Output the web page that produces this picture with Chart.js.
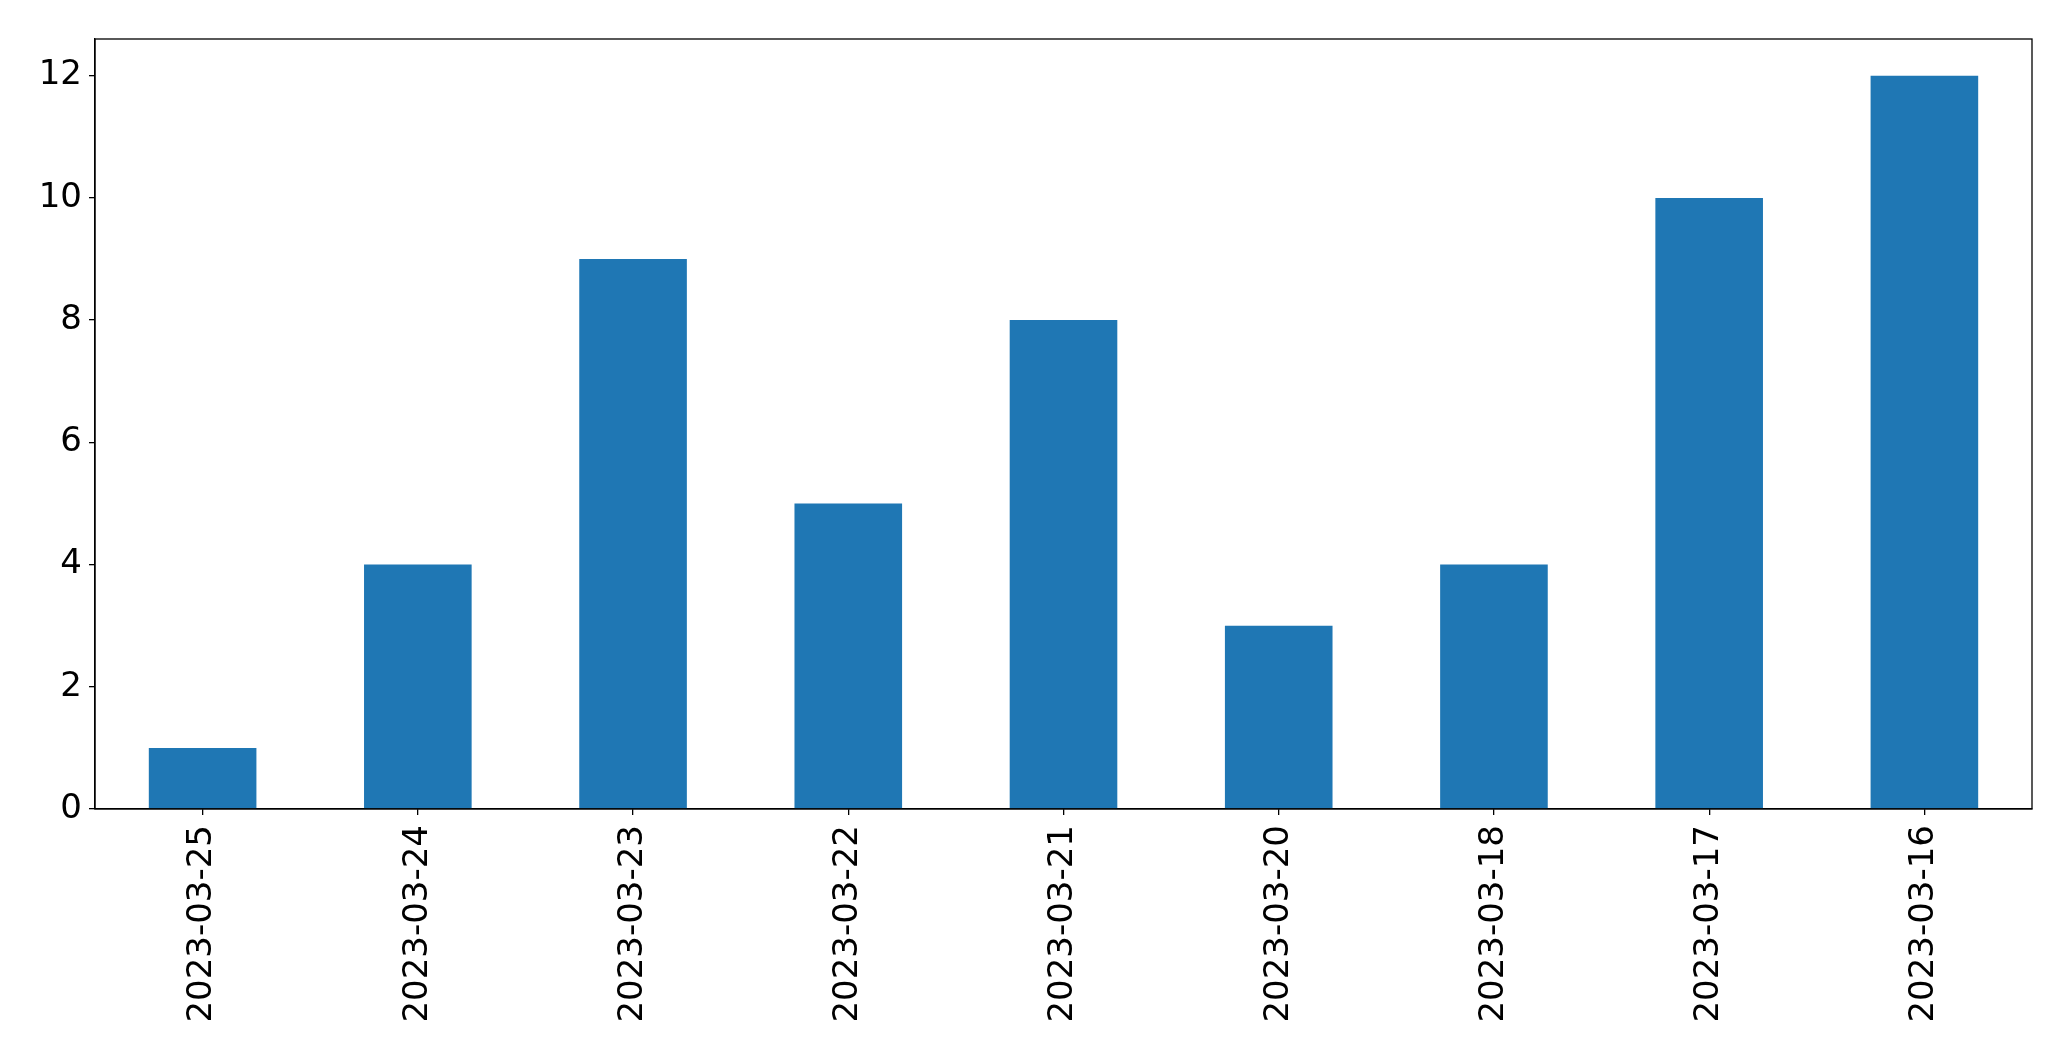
<!DOCTYPE html>
<html lang="en">
<head>
  <meta charset="UTF-8">
  <title>Counts per day</title>
  <script src="https://cdn.jsdelivr.net/npm/chart.js"></script>
  <style>
    body {
      margin: 0;
      background: #fff;
    }
    #wrap {
      width: 2071px;
      height: 1061px;
    }
  </style>
</head>
<body>
  <div id="wrap">
    <canvas id="barChart" width="2071" height="1061"></canvas>
  </div>

  <script>
    const dates = ['2023-03-25', '2023-03-24', '2023-03-23', '2023-03-22', '2023-03-21',
                   '2023-03-20', '2023-03-18', '2023-03-17', '2023-03-16'];
    const counts = [1, 4, 9, 5, 8, 3, 4, 10, 12];
    const yTicks = [0, 2, 4, 6, 8, 10, 12];
    const yMax = 12.6;

    // frame round the plot area (top and right sides too, like matplotlib)
    const frame = {
      id: 'frame',
      afterDraw(chart) {
        const a = chart.chartArea;
        const ctx = chart.ctx;
        ctx.save();
        ctx.strokeStyle = '#000';
        ctx.lineWidth = 1.3;
        ctx.strokeRect(a.left, a.top, a.right - a.left, a.bottom - a.top);
        ctx.restore();
      }
    };

    const font = { family: '"DejaVu Sans", sans-serif', size: 34 };

    new Chart(document.getElementById('barChart').getContext('2d'), {
      type: 'bar',
      data: {
        labels: dates,
        datasets: [{
          data: counts,
          backgroundColor: '#1f77b4',
          barPercentage: 0.5,
          categoryPercentage: 1.0
        }]
      },
      options: {
        responsive: false,
        animation: false,
        layout: { padding: { top: 39, right: 39, left: 0, bottom: 0 } },
        plugins: {
          legend: { display: false },
          tooltip: { enabled: false }
        },
        scales: {
          x: {
            grid: { offset: false, drawOnChartArea: false, color: '#000', tickLength: 6, lineWidth: 1.3 },
            border: { color: '#000', width: 1.3 },
            ticks: { color: '#000', font: font, maxRotation: 90, minRotation: 90, padding: 10 },
            afterFit(scale) { scale.height = 252; }
          },
          y: {
            min: 0,
            max: yMax,
            grid: { drawOnChartArea: false, color: '#000', tickLength: 6, lineWidth: 1.3 },
            border: { color: '#000', width: 1.3 },
            ticks: { color: '#000', font: font, padding: 7 },
            afterBuildTicks(scale) { scale.ticks = yTicks.map(v => ({ value: v })); },
            afterFit(scale) { scale.width = 95; }
          }
        }
      },
      plugins: [frame]
    });
  </script>
</body>
</html>
